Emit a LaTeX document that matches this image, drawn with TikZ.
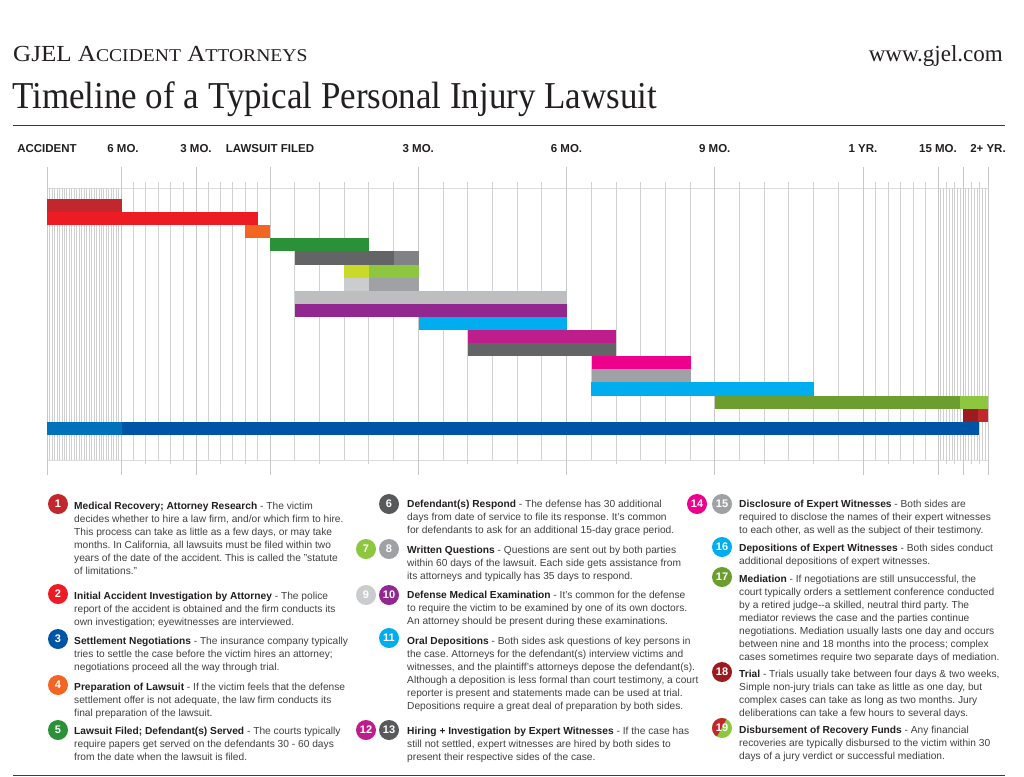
\documentclass[tikz,border=0pt]{standalone}
\usepackage{fontspec}
\setmainfont{Liberation Serif}
\setsansfont{Liberation Sans}
\usepackage{graphicx}
\frenchspacing
\definecolor{ink}{HTML}{231F20}
\definecolor{bodyc}{HTML}{414042}
\definecolor{rulec}{HTML}{3A3A3A}
\definecolor{gmaj}{HTML}{C8C8C8}
\definecolor{gmin}{HTML}{D2D2D2}
\definecolor{gden}{HTML}{D0D0D0}
\definecolor{ghor}{HTML}{DCDCDC}
\definecolor{cDkRed}{HTML}{C1272D}
\definecolor{cRed}{HTML}{ED1C24}
\definecolor{cOrange}{HTML}{F26522}
\definecolor{cGreen}{HTML}{2A9139}
\definecolor{cDkGray}{HTML}{636466}
\definecolor{cMidGray}{HTML}{808285}
\definecolor{cYellow}{HTML}{C9DA2A}
\definecolor{cLtGreen}{HTML}{8DC63F}
\definecolor{cPale}{HTML}{CBCCCE}
\definecolor{cGray}{HTML}{A0A1A4}
\definecolor{cSilver}{HTML}{BCBEC0}
\definecolor{cPurple}{HTML}{92278F}
\definecolor{cCyan}{HTML}{00AEEF}
\definecolor{cMagenta}{HTML}{BD1E8B}
\definecolor{cPink}{HTML}{EC008C}
\definecolor{cOlive}{HTML}{6B9E2E}
\definecolor{cMaroon}{HTML}{9B1B1F}
\definecolor{cBlueA}{HTML}{0072BC}
\definecolor{cBlue}{HTML}{0054A6}
\definecolor{cNumGray}{HTML}{58595B}
\newcommand{\ganttbar}[4]{\fill[#4] (#2,{199+(#1-1)*13.1}) rectangle (#3,{199+#1*13.1});}
\newcommand{\legtext}[1]{\parbox[t]{345pt}{\fontsize{10.2}{13}\selectfont\color{bodyc}#1}}
\newcommand{\hd}[1]{\textbf{\color{ink}#1}}
\begin{document}
\begin{tikzpicture}[x=1pt,y=-1pt,
  gridmaj/.style={draw=gmaj,line width=0.9pt},
  gridmin/.style={draw=gmin,line width=0.8pt},
  griddense/.style={draw=gden,line width=0.6pt},
  gridhor/.style={draw=ghor,line width=1pt},
  lbl/.style={anchor=base,inner sep=0pt,font=\sffamily\bfseries\fontsize{11.5}{12}\selectfont,text=ink},
  circ/.style={circle,minimum size=20pt,inner sep=0pt,text=white,font=\sffamily\bfseries\fontsize{11}{11}\selectfont},
  legnode/.style={anchor=base west,inner sep=0pt,font=\sffamily}]
\useasboundingbox (0,0) rectangle (1024,776);
\fill[white] (0,0) rectangle (1024,776);

% ---------- header ----------
\node[anchor=base west,inner sep=0pt,text=ink] (brand) at (13,62)
  {\scalebox{1.09}[1]{\fontsize{23}{23}\selectfont GJEL A{\fontsize{18}{18}\selectfont CCIDENT} A{\fontsize{18}{18}\selectfont TTORNEYS}}};
\node[anchor=base east,inner sep=0pt,text=ink] (url) at (1003,62)
  {\fontsize{23}{23}\selectfont www.gjel.com};
\node[anchor=base west,inner sep=0pt,text=ink] (title) at (12,108)
  {\scalebox{0.92}[1]{\fontsize{38}{38}\selectfont Timeline of a Typical Personal Injury Lawsuit}};
\draw[rulec,line width=1pt] (13,125) -- (1005,125);

% ---------- time labels ----------
\node[lbl] (lAcc) at (47,152) {ACCIDENT};
\node[lbl] (lM6a) at (123,152) {6 MO.};
\node[lbl] (lM3a) at (196,152) {3 MO.};
\node[lbl] (lFil) at (270,152) {LAWSUIT FILED};
\node[lbl] (lM3) at (418.25,152) {3 MO.};
\node[lbl] (lM6) at (566.5,152) {6 MO.};
\node[lbl] (lM9) at (714.75,152) {9 MO.};
\node[lbl] (lY1) at (863,152) {1 YR.};
\node[lbl] (lM15) at (938,152) {15 MO.};
\node[lbl] (lY2) at (988,152) {2+ YR.};

% ---------- grid ----------
\draw[gridhor] (47,188) -- (988,188);
\draw[gridhor] (47,460) -- (988,460);
\foreach \i in {1,...,29} \draw[griddense] ({47+\i*74/30},188) -- ({47+\i*74/30},460);
\foreach \i in {1,...,17} \draw[griddense] ({938+\i*50/18},188) -- ({938+\i*50/18},460);
\foreach \i in {3,6,12,15} \draw[gridmin] ({938+\i*50/18},182) -- ({938+\i*50/18},464);
\foreach \i in {1,...,5,7,8,...,11} \draw[gridmin] ({121+\i*149/12},182) -- ({121+\i*149/12},460);
\foreach \i in {2,4,8,10} \draw[gridmin] ({121+\i*149/12},460) -- ({121+\i*149/12},464);
\foreach \i in {1,...,5,7,8,...,11,13,14,...,17,19,20,...,23} \draw[gridmin] ({270+\i*593/24},182) -- ({270+\i*593/24},460);
\foreach \i in {2,4,8,10,14,16,20,22} \draw[gridmin] ({270+\i*593/24},460) -- ({270+\i*593/24},464);
\foreach \i in {1,...,5} \draw[gridmin] ({863+\i*75/6},182) -- ({863+\i*75/6},460);
\foreach \i in {2,4} \draw[gridmin] ({863+\i*75/6},460) -- ({863+\i*75/6},464);
\foreach \x in {47,121,196,270,418.25,566.5,714.75,863,938,963,988} \draw[gridmaj] (\x,167) -- (\x,475);

% ---------- bars ----------
\ganttbar{1}{47}{122}{cDkRed}
\ganttbar{2}{47}{258}{cRed}
\ganttbar{3}{245}{270}{cOrange}
\ganttbar{4}{270}{369}{cGreen}
\ganttbar{5}{295}{394}{cDkGray}
\ganttbar{5}{394}{419}{cMidGray}
\ganttbar{6}{344}{369}{cYellow}
\ganttbar{6}{369}{419}{cLtGreen}
\ganttbar{7}{344}{369}{cPale}
\ganttbar{7}{369}{419}{cGray}
\ganttbar{8}{295}{567}{cSilver}
\ganttbar{9}{295}{567}{cPurple}
\ganttbar{10}{419}{567}{cCyan}
\ganttbar{11}{468}{616}{cMagenta}
\ganttbar{12}{468}{616}{cDkGray}
\ganttbar{13}{592}{691}{cPink}
\ganttbar{14}{592}{691}{cGray}
\ganttbar{15}{591}{814}{cCyan}
\ganttbar{16}{715}{960}{cOlive}
\ganttbar{16}{960}{988}{cLtGreen}
\ganttbar{17}{963}{978}{cMaroon}
\ganttbar{17}{978}{988}{cDkRed}
\ganttbar{18}{47}{122}{cBlueA}
\ganttbar{18}{122}{979}{cBlue}

% ---------- legend column 1 ----------
\node[circ,fill=cDkRed] (c1) at (58,504) {1};
\node[legnode] (t1) at (74,502.5) {\legtext{\hd{Medical Recovery; Attorney Research} - The victim\\
decides whether to hire a law firm, and/or which firm to hire.\\
This process can take as little as a few days, or may take\\
months. In California, all lawsuits must be filed within two\\
years of the date of the accident. This is called the "statute\\
of limitations."}};
\node[circ,fill=cRed] (c2) at (58,594) {2};
\node[legnode] (t2) at (74,592.5) {\legtext{\hd{Initial Accident Investigation by Attorney} - The police\\
report of the accident is obtained and the firm conducts its\\
own investigation; eyewitnesses are interviewed.}};
\node[circ,fill=cBlue] (c3) at (58,639) {3};
\node[legnode] (t3) at (74,637.5) {\legtext{\hd{Settlement Negotiations} - The insurance company typically\\
tries to settle the case before the victim hires an attorney;\\
negotiations proceed all the way through trial.}};
\node[circ,fill=cOrange] (c4) at (58,685) {4};
\node[legnode] (t4) at (74,683.5) {\legtext{\hd{Preparation of Lawsuit} - If the victim feels that the defense\\
settlement offer is not adequate, the law firm conducts its\\
final preparation of the lawsuit.}};
\node[circ,fill=cGreen] (c5) at (58,730) {5};
\node[legnode] (t5) at (74,727.5) {\legtext{\hd{Lawsuit Filed; Defendant(s) Served} - The courts typically\\
require papers get served on the defendants 30 - 60 days\\
from the date when the lawsuit is filed.}};

% ---------- legend column 2 ----------
\node[circ,fill=cNumGray] (c6) at (389,504) {6};
\node[legnode] (t6) at (407,500.5) {\legtext{\hd{Defendant(s) Respond} - The defense has 30 additional\\
days from date of service to file its response. It's common\\
for defendants to ask for an additional 15-day grace period.}};
\node[circ,fill=cLtGreen] (c7) at (366,549) {7};
\node[circ,fill=cGray] (c8) at (389,549) {8};
\node[legnode] (t7) at (407,546.5) {\legtext{\hd{Written Questions} - Questions are sent out by both parties\\
within 60 days of the lawsuit. Each side gets assistance from\\
its attorneys and typically has 35 days to respond.}};
\node[circ,fill=cPale] (c9) at (366,595) {9};
\node[circ,fill=cPurple] (c10) at (389,595) {10};
\node[legnode] (t9) at (407,591.5) {\legtext{\hd{Defense Medical Examination} - It's common for the defense\\
to require the victim to be examined by one of its own doctors.\\
An attorney should be present during these examinations.}};
\node[circ,fill=cCyan] (c11) at (389,638) {11};
\node[legnode] (t11) at (407,637.5) {\legtext{\hd{Oral Depositions} - Both sides ask questions of key persons in\\
the case. Attorneys for the defendant(s) interview victims and\\
witnesses, and the plaintiff's attorneys depose the defendant(s).\\
Although a deposition is less formal than court testimony, a court\\
reporter is present and statements made can be used at trial.\\
Depositions require a great deal of preparation by both sides.}};
\node[circ,fill=cMagenta] (c12) at (366,730) {12};
\node[circ,fill=cNumGray] (c13) at (389,730) {13};
\node[legnode] (t12) at (407,727.5) {\legtext{\hd{Hiring + Investigation by Expert Witnesses} - If the case has\\
still not settled, expert witnesses are hired by both sides to\\
present their respective sides of the case.}};

% ---------- legend column 3 ----------
\node[circ,fill=cPink] (c14) at (697,504) {14};
\node[circ,fill=cGray] (c15) at (722,504) {15};
\node[legnode] (t14) at (739,500.5) {\legtext{\hd{Disclosure of Expert Witnesses} - Both sides are\\
required to disclose the names of their expert witnesses\\
to each other, as well as the subject of their testimony.}};
\node[circ,fill=cCyan] (c16) at (722,547) {16};
\node[legnode] (t16) at (739,544.5) {\legtext{\hd{Depositions of Expert Witnesses} - Both sides conduct\\
additional depositions of expert witnesses.}};
\node[circ,fill=cOlive] (c17) at (722,577) {17};
\node[legnode] (t17) at (739,575.5) {\legtext{\hd{Mediation} - If negotiations are still unsuccessful, the\\
court typically orders a settlement conference conducted\\
by a retired judge{-}{-}a skilled, neutral third party. The\\
mediator reviews the case and the parties continue\\
negotiations. Mediation usually lasts one day and occurs\\
between nine and 18 months into the process; complex\\
cases sometimes require two separate days of mediation.}};
\node[circ,fill=cMaroon] (c18) at (722,672) {18};
\node[legnode] (t18) at (739,670.5) {\legtext{\hd{Trial} - Trials usually take between four days \& two weeks,\\
Simple non-jury trials can take as little as one day, but\\
complex cases can take as long as two months. Jury\\
deliberations can take a few hours to several days.}};
\begin{scope}
  \clip (722,728) circle (10);
  \fill[cLtGreen] (712,718) rectangle (732,738);
  \fill[cDkRed] (712,718) -- (727,718) -- (716,738) -- (712,738) -- cycle;
\end{scope}
\node[circ] (c19) at (722,728) {19};
\node[legnode] (t19) at (739,726.5) {\legtext{\hd{Disbursement of Recovery Funds} - Any financial\\
recoveries are typically disbursed to the victim within 30\\
days of a jury verdict or successful mediation.}};

\draw[rulec,line width=1pt] (13,775) -- (1005,775);
\end{tikzpicture}
\end{document}
